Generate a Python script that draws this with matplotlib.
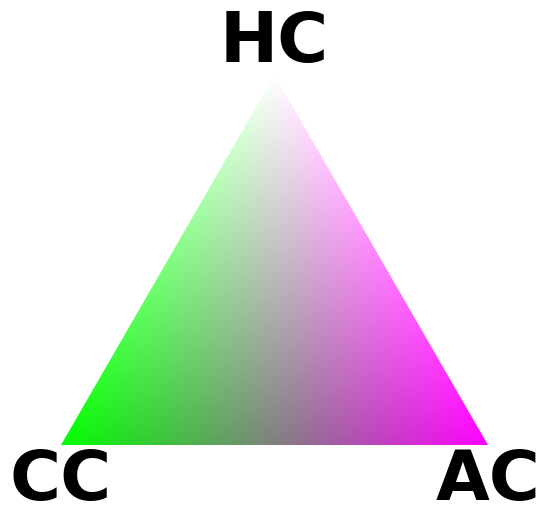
import numpy as np
import matplotlib
matplotlib.use('Agg')
from matplotlib import pyplot as plt
from matplotlib.patches import Polygon

# corner labels and their colours (RGB)
labels = ['CC', 'AC', 'HC']
corner_colors = np.array([
    [0.0, 1.0, 0.0],   # CC green
    [1.0, 0.0, 1.0],   # AC magenta
    [1.0, 1.0, 1.0],   # HC white
])
corners_x = [0.0, 1.0, 0.5]
corners_y = [0.0, 0.0, np.sqrt(3) / 2]

fig = plt.figure(figsize=(5.5, 5.23), dpi=100)
ax = fig.add_axes([0, 0, 1, 1])
ax.set_xlim(-61 / 427, 489 / 427)
ax.set_ylim(-78 / 427, 445 / 427)
ax.axis('off')

# barycentric colour field
n = 600
xs = np.linspace(0, 1, n)
ys = np.linspace(0, np.sqrt(3) / 2, n)
X, Y = np.meshgrid(xs, ys)
(x1, x2, x3), (y1, y2, y3) = corners_x, corners_y
det = (y2 - y3) * (x1 - x3) + (x3 - x2) * (y1 - y3)
l1 = ((y2 - y3) * (X - x3) + (x3 - x2) * (Y - y3)) / det
l2 = ((y3 - y1) * (X - x3) + (x1 - x3) * (Y - y3)) / det
l3 = 1 - l1 - l2
w = np.clip(np.stack([l1, l2, l3], axis=-1), 0, 1)
w = w / w.sum(axis=-1, keepdims=True)
img = np.clip(w @ corner_colors, 0, 1)

tri = Polygon(np.column_stack([corners_x, corners_y]), closed=True,
              facecolor='none', edgecolor='none', transform=ax.transData)
ax.add_patch(tri)
im = ax.imshow(img, origin='lower', extent=(0, 1, 0, np.sqrt(3) / 2),
               interpolation='bilinear', aspect='auto')
im.set_clip_path(tri)

ax.text(corners_x[0], -0.084, labels[0], ha='center', va='center',
        fontsize=50, fontweight='bold')
ax.text(corners_x[1], -0.084, labels[1], ha='center', va='center',
        fontsize=50, fontweight='bold')
ax.text(corners_x[2], np.sqrt(3) / 2 + 0.077, labels[2], ha='center', va='center',
        fontsize=50, fontweight='bold')

plt.savefig('out.png', dpi=100)
